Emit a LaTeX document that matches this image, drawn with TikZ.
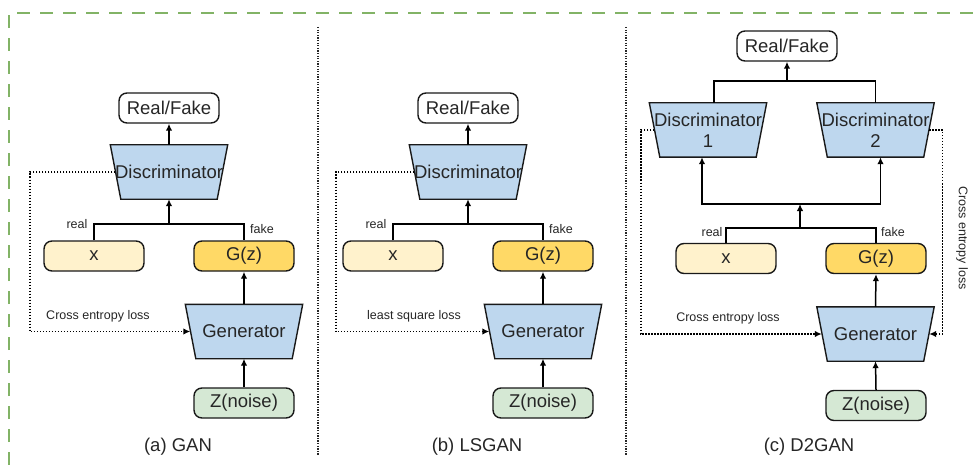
\documentclass[tikz,border=0pt]{standalone}
\usepackage{fontspec}
\setmainfont{Liberation Sans}
\usepackage{tikz}
\usetikzlibrary{arrows.meta, backgrounds}
\usepackage{xcolor}

\definecolor{discblue}{RGB}{190,215,238}
\definecolor{realyellow}{RGB}{255,242,204}
\definecolor{fakeyellow}{RGB}{255,217,102}
\definecolor{noisegreen}{RGB}{213,232,212}
\definecolor{framegreen}{RGB}{130,179,102}

\tikzset{
  boxtext/.style={font=\fontsize{18.5}{21}\selectfont, text=black!85},
  smalltext/.style={font=\fontsize{12.5}{14}\selectfont, text=black!85},
  databox/.style={draw=black!90, line width=1.4pt, rounded corners=8pt, minimum width=100pt, minimum height=30pt, inner sep=0pt, boxtext},
  netbox/.style={minimum width=117pt, minimum height=54pt, inner sep=0pt, align=center, boxtext},
  netline/.style={draw=black!90, line width=1.4pt, fill=discblue},
  arr/.style={-{Latex[length=7pt,width=6.5pt]}, line width=1.5pt},
  wire/.style={line width=1.5pt},
  loss/.style={-{Latex[length=7pt,width=6.5pt]}, line width=1.4pt, dash pattern={on 1.5pt off 1.5pt}},
}
% trapezoid behind a net node, wide on top
\newcommand{\netshape}[1]{%
  \begin{pgfonlayer}{background}
  \draw [netline] (#1.north west) -- (#1.north east) -- ([xshift=-10.5pt]#1.south east) -- ([xshift=10.5pt]#1.south west) -- cycle ;
  \end{pgfonlayer}}

\begin{document}
\begin{tikzpicture}[x=1pt,y=1pt,yscale=-1,xscale=1]
\useasboundingbox (0,0) rectangle (979,465);

%Frame
\draw [framegreen, line width=1.5pt, dash pattern={on 13pt off 10pt}] (9,465) -- (9,13) -- (979,13) ;
%Separators
\draw [black!85, line width=1.3pt, dash pattern={on 1.3pt off 1.3pt}] (318,27) -- (318,455) ;
\draw [black!85, line width=1.3pt, dash pattern={on 1.3pt off 1.3pt}] (626,27) -- (626,455) ;

%%%% (a) GAN
\node [databox] (rfa) at (169,108) {Real/Fake};
\node [netbox] (da) at (169,172) {Discriminator};
\node [databox, fill=realyellow] (xa) at (94,256) {x};
\node [databox, fill=fakeyellow] (gza) at (244,256) {G(z)};
\node [netbox] (ga) at (244,331.5) {Generator};
\node [databox, fill=noisegreen] (za) at (244,403) {Z(noise)};
\netshape{da} \netshape{ga}
\coordinate (ja) at (169,224);

\draw [wire] (xa.north) |- (ja) -| (gza.north) ;
\draw [arr] (ja) -- (da.south) ;
\draw [arr] (da.north) -- (rfa.south) ;
\draw [arr] (ga.north) -- (gza.south) ;
\draw [arr] (za.north) -- (ga.south) ;
\draw [loss] ([xshift=5pt]da.west) -- ++(-85.5,0) |- ([xshift=5pt]ga.west) ;

% Text Node
\node [smalltext] (reala) at (77,224) {real};
\node [smalltext] (fakea) at (262,229) {fake};
\node [smalltext] (lossa) at (98,316) {Cross entropy loss};
\node [boxtext] (capa) at (178,447) {(a) GAN};

%%%% (b) LSGAN
\node [databox] (rfb) at (468,108) {Real/Fake};
\node [netbox] (db) at (468,172) {Discriminator};
\node [databox, fill=realyellow] (xb) at (393,256) {x};
\node [databox, fill=fakeyellow] (gzb) at (543,256) {G(z)};
\node [netbox] (gb) at (543,331.5) {Generator};
\node [databox, fill=noisegreen] (zb) at (543,403) {Z(noise)};
\netshape{db} \netshape{gb}
\coordinate (jb) at (468,224);

\draw [wire] (xb.north) |- (jb) -| (gzb.north) ;
\draw [arr] (jb) -- (db.south) ;
\draw [arr] (db.north) -- (rfb.south) ;
\draw [arr] (gb.north) -- (gzb.south) ;
\draw [arr] (zb.north) -- (gb.south) ;
\draw [loss] ([xshift=5pt]db.west) -- ++(-78.5,0) |- ([xshift=5pt]gb.west) ;

% Text Node
\node [smalltext] (realb) at (376,224) {real};
\node [smalltext] (fakeb) at (561,229) {fake};
\node [smalltext] (lossb) at (414,316) {least square loss};
\node [boxtext] (capb) at (477,447) {(b) LSGAN};

%%%% (c) D2GAN
\node [databox] (rfc) at (787,46) {Real/Fake};
\node [netbox] (dc1) at (708,130) {Discriminator\\1};
\node [netbox] (dc2) at (875.5,130) {Discriminator\\2};
\node [databox, fill=realyellow] (xc) at (726,258.5) {x};
\node [databox, fill=fakeyellow] (gzc) at (876,258.5) {G(z)};
\node [netbox] (gc) at (875.5,334) {Generator};
\node [databox, fill=noisegreen] (zc) at (876,405.5) {Z(noise)};
\netshape{dc1} \netshape{dc2} \netshape{gc}
\coordinate (jc) at (800,228);
\coordinate (kc) at (800,204);
\coordinate (tc) at (787,81);

\draw [wire] ([xshift=6pt]dc1.north) |- (tc) -| (dc2.north) ;
\draw [arr] (tc) -- (rfc.south) ;
\draw [wire] (xc.north) |- (jc) -| (gzc.north) ;
\draw [arr] (jc) -- (kc) ;
\draw [arr] (kc) -| ([xshift=-6pt]dc1.south) ;
\draw [arr] (kc) -| ([xshift=5pt]dc2.south) ;
\draw [arr] (gc.north) -- (gzc.south) ;
\draw [arr] (zc.north) -- (gc.south) ;
\draw [loss] ([xshift=5pt]dc1.west) -- ++(-13.5,0) |- ([xshift=5pt]gc.west) ;
\draw [loss] ([xshift=-5pt]dc2.east) -- ++(13,0) |- ([xshift=-5pt]gc.east) ;

% Text Node
\node [smalltext] (realc) at (712,232) {real};
\node [smalltext] (fakec) at (893,232) {fake};
\node [smalltext] (lossc) at (728,318) {Cross entropy loss};
\node [smalltext, rotate=-90] (lossd) at (962,238) {Cross entropy loss};
\node [boxtext] (capc) at (809,447) {(c) D2GAN};

\end{tikzpicture}
\end{document}
